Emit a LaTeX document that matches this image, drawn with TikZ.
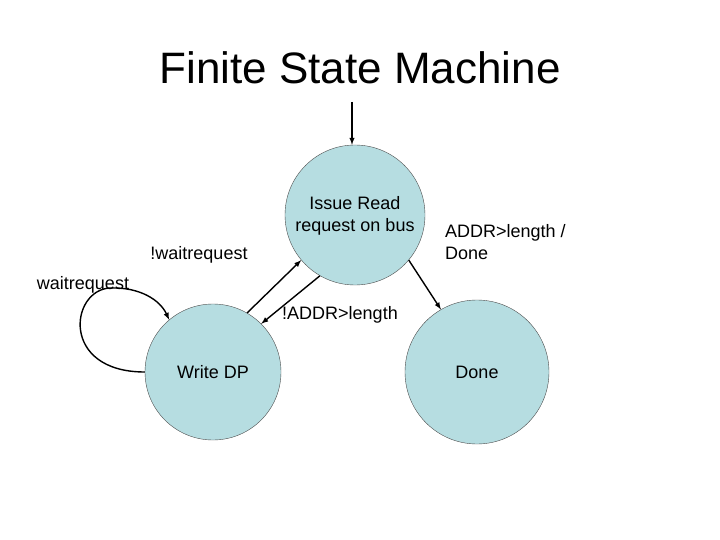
\documentclass[tikz,border=0pt]{standalone}
\usepackage{fontspec}
\setmainfont{Liberation Sans}
\begin{document}
\begin{tikzpicture}[x=1pt,y=-1pt,
  st/.style={circle,draw=black!70,minimum size=140pt,inner sep=0pt,align=center,font=\fontsize{18}{22}\selectfont},
  lbl/.style={font=\fontsize{18}{22}\selectfont,align=left,inner sep=0pt},
  ar/.style={draw,line width=1.4pt,-latex}]
\definecolor{stfill}{RGB}{182,221,225}
\tikzset{st/.append style={fill=stfill}}
\useasboundingbox (0,0) rectangle (720,540);
\node[font=\fontsize{44}{50}\selectfont] (title) at (360,68) {Finite State Machine};
\node[st] (issue) at (355,215) {};
\node[lbl,align=center] (itext) at (355,216) {Issue Read\\request on bus};
\node[st,minimum size=136pt] (write) at (213,372) {Write DP};
\node[st,minimum size=144pt] (done) at (477,372) {Done};
\coordinate (start) at (352,102);
\draw[ar] (start) -- (issue.north -| start);
\draw[ar] (write.60) -- (issue.220);
\draw[ar] (issue.240) -- (write.45);
\draw[ar] (issue.-40) -- (done.120);
\draw[ar] (write.180) .. controls (60,372) and (70,290) .. (110,288) .. controls (140,287) and (160,300) .. (write.130);
\node[lbl] (l1) at (199,255) {!waitrequest};
\node[lbl] (l2) at (83,285) {waitrequest};
\node[lbl] (l3) at (340,315) {!ADDR>length};
\node[lbl,anchor=west] (l4) at (445,242) {ADDR>length /\\Done};
\end{tikzpicture}
\end{document}
